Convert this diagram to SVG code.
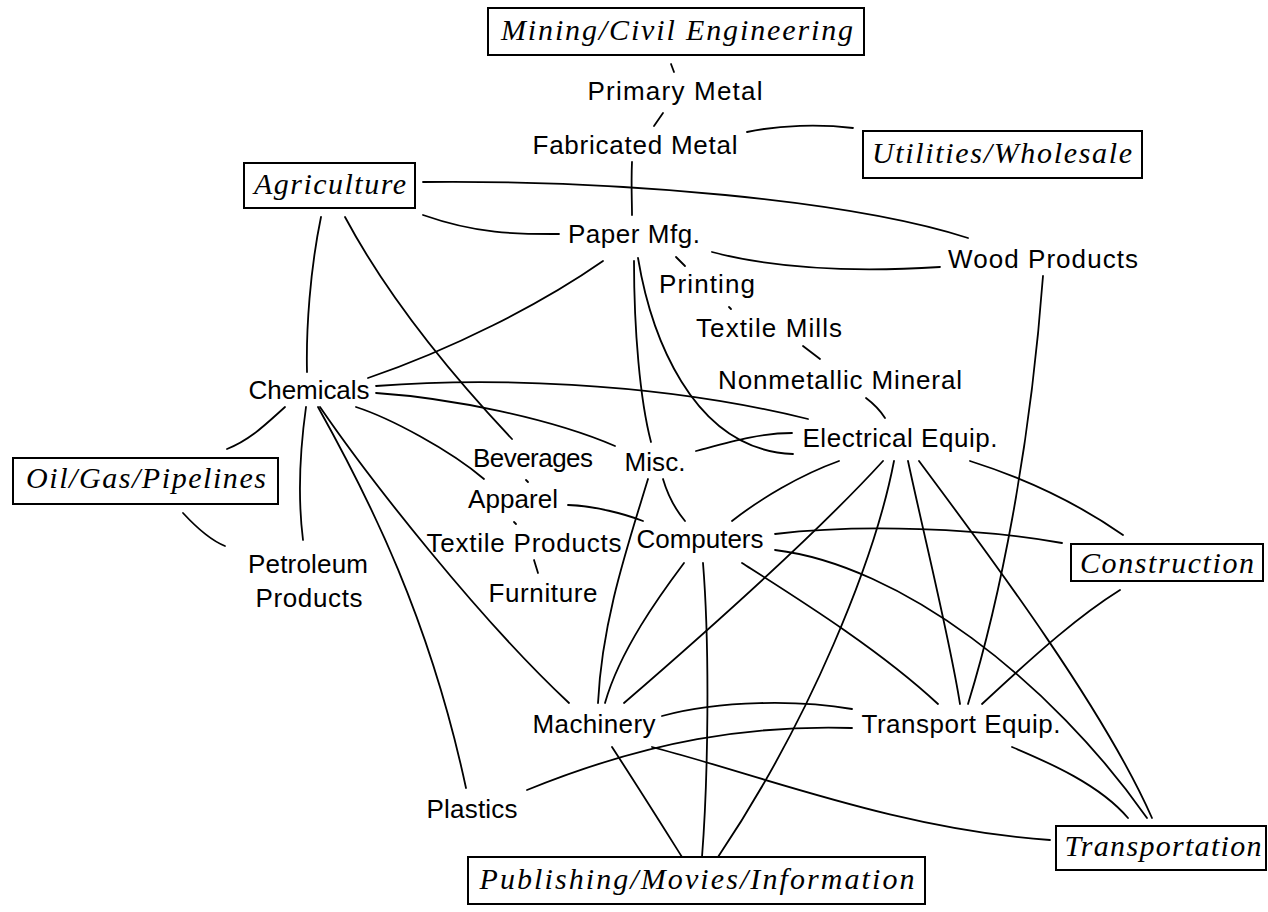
<svg xmlns="http://www.w3.org/2000/svg" width="1268" height="912" viewBox="0 0 1268 912">
<style>
.n text{font-family:"Liberation Sans",Arial,sans-serif;font-size:26px;fill:#000;text-anchor:middle}
.b text{font-family:"Liberation Serif","Times New Roman",serif;font-style:italic;font-size:30px;fill:#000;text-anchor:middle}
.b rect{fill:#fff;stroke:#000;stroke-width:2}
#edges path{fill:none;stroke:#000;stroke-width:1.8;stroke-linecap:round}
</style>
<rect width="1268" height="912" fill="#fff"/>
<g id="edges">
<path d="M671,64 L674,72"/>
<path d="M663,113 L654,126"/>
<path d="M747,132 C780,125 820,124 853,128"/>
<path d="M632,162 C631,185 632,200 632,215"/>
<path d="M423,182 C620,180 850,200 968,238"/>
<path d="M423,215 C480,235 520,234 559,234"/>
<path d="M321,217 C310,270 306,330 307,372"/>
<path d="M345,217 Q400,320 512,439"/>
<path d="M603,261 C540,305 450,350 368,378"/>
<path d="M634,261 C634,330 640,400 651,442"/>
<path d="M638,258 C650,330 690,450 793,454"/>
<path d="M676,257 L685,266"/>
<path d="M712,252 C780,270 860,272 940,267"/>
<path d="M729,307 L731,309"/>
<path d="M803,346 L820,359"/>
<path d="M866,398 Q878,407 885,418"/>
<path d="M376,386 C480,378 650,380 808,419"/>
<path d="M376,393 C450,398 550,418 615,446"/>
<path d="M356,407 C390,418 450,450 484,479"/>
<path d="M285,407 C265,425 250,440 227,449"/>
<path d="M306,407 C300,450 298,500 303,540"/>
<path d="M320,407 C370,480 480,620 569,703"/>
<path d="M318,407 C370,500 430,620 466,788"/>
<path d="M183,513 C195,526 210,540 225,546"/>
<path d="M526,480 L528,482"/>
<path d="M514,522 L516,524"/>
<path d="M534,560 L538,573"/>
<path d="M568,505 C595,506 625,514 643,521"/>
<path d="M663,479 Q670,503 685,521"/>
<path d="M648,479 C628,545 602,620 598,703"/>
<path d="M684,563 C660,595 620,650 605,703"/>
<path d="M883,461 C820,530 720,620 624,703"/>
<path d="M696,451 C730,442 760,433 792,433"/>
<path d="M732,521 C760,499 800,475 839,461"/>
<path d="M775,534 C860,524 980,528 1062,543"/>
<path d="M775,550 C900,565 1050,680 1147,818"/>
<path d="M742,563 C800,600 880,650 938,704"/>
<path d="M703,563 C710,650 708,780 702,857"/>
<path d="M894,461 C875,560 810,720 718,857"/>
<path d="M908,461 C925,540 950,640 960,704"/>
<path d="M919,461 C970,530 1100,700 1152,818"/>
<path d="M970,461 C1030,480 1080,505 1123,535"/>
<path d="M1043,276 C1030,450 1000,600 968,704"/>
<path d="M1120,590 C1080,615 1040,650 982,704"/>
<path d="M662,716 C720,700 800,700 852,709"/>
<path d="M527,790 C650,740 750,725 852,728"/>
<path d="M652,747 C760,775 900,830 1050,840"/>
<path d="M612,747 C640,790 665,830 682,857"/>
<path d="M1012,747 C1050,763 1100,785 1128,818"/>
</g>
<g id="mining" class="b"><rect x="488" y="8" width="376" height="47"/><text x="677" y="40" textLength="352" lengthAdjust="spacing">Mining/Civil Engineering</text></g>
<g id="primary" class="n"><text x="675" y="100" textLength="175" lengthAdjust="spacing">Primary Metal</text></g>
<g id="fabricated" class="n"><text x="635" y="154" textLength="205" lengthAdjust="spacing">Fabricated Metal</text></g>
<g id="utilities" class="b"><rect x="863" y="131" width="279" height="47"/><text x="1002" y="163" textLength="260" lengthAdjust="spacing">Utilities/Wholesale</text></g>
<g id="agriculture" class="b"><rect x="244" y="163" width="171" height="45"/><text x="330" y="194" textLength="152" lengthAdjust="spacing">Agriculture</text></g>
<g id="paper" class="n"><text x="634" y="243" textLength="132" lengthAdjust="spacing">Paper Mfg.</text></g>
<g id="wood" class="n"><text x="1043" y="268" textLength="190" lengthAdjust="spacing">Wood Products</text></g>
<g id="printing" class="n"><text x="707" y="293" textLength="96" lengthAdjust="spacing">Printing</text></g>
<g id="textilemills" class="n"><text x="769" y="337" textLength="146" lengthAdjust="spacing">Textile Mills</text></g>
<g id="nonmetallic" class="n"><text x="840" y="389" textLength="244" lengthAdjust="spacing">Nonmetallic Mineral</text></g>
<g id="chemicals" class="n"><text x="309" y="399" textLength="121" lengthAdjust="spacing">Chemicals</text></g>
<g id="electrical" class="n"><text x="900" y="447" textLength="195" lengthAdjust="spacing">Electrical Equip.</text></g>
<g id="misc" class="n"><text x="655" y="471" textLength="61" lengthAdjust="spacing">Misc.</text></g>
<g id="beverages" class="n"><text x="533" y="467" textLength="120" lengthAdjust="spacing">Beverages</text></g>
<g id="oilgas" class="b"><rect x="13" y="458" width="265" height="46"/><text x="146" y="488" textLength="240" lengthAdjust="spacing">Oil/Gas/Pipelines</text></g>
<g id="apparel" class="n"><text x="513" y="508" textLength="90" lengthAdjust="spacing">Apparel</text></g>
<g id="computers" class="n"><text x="700" y="548" textLength="127" lengthAdjust="spacing">Computers</text></g>
<g id="textileproducts" class="n"><text x="524" y="552" textLength="195" lengthAdjust="spacing">Textile Products</text></g>
<g id="construction" class="b"><rect x="1071" y="544" width="192" height="37"/><text x="1167" y="573" textLength="174" lengthAdjust="spacing">Construction</text></g>
<g id="petroleum" class="n"><text x="308" y="573" textLength="120" lengthAdjust="spacing">Petroleum</text><text x="309" y="607" textLength="107" lengthAdjust="spacing">Products</text></g>
<g id="furniture" class="n"><text x="543" y="602" textLength="109" lengthAdjust="spacing">Furniture</text></g>
<g id="machinery" class="n"><text x="594" y="733" textLength="123" lengthAdjust="spacing">Machinery</text></g>
<g id="transportequip" class="n"><text x="961" y="733" textLength="199" lengthAdjust="spacing">Transport Equip.</text></g>
<g id="plastics" class="n"><text x="472" y="818" textLength="91" lengthAdjust="spacing">Plastics</text></g>
<g id="transportation" class="b"><rect x="1056" y="826" width="210" height="44"/><text x="1163" y="856" textLength="197" lengthAdjust="spacing">Transportation</text></g>
<g id="publishing" class="b"><rect x="468" y="857" width="457" height="47"/><text x="697" y="889" textLength="435" lengthAdjust="spacing">Publishing/Movies/Information</text></g>
</svg>
